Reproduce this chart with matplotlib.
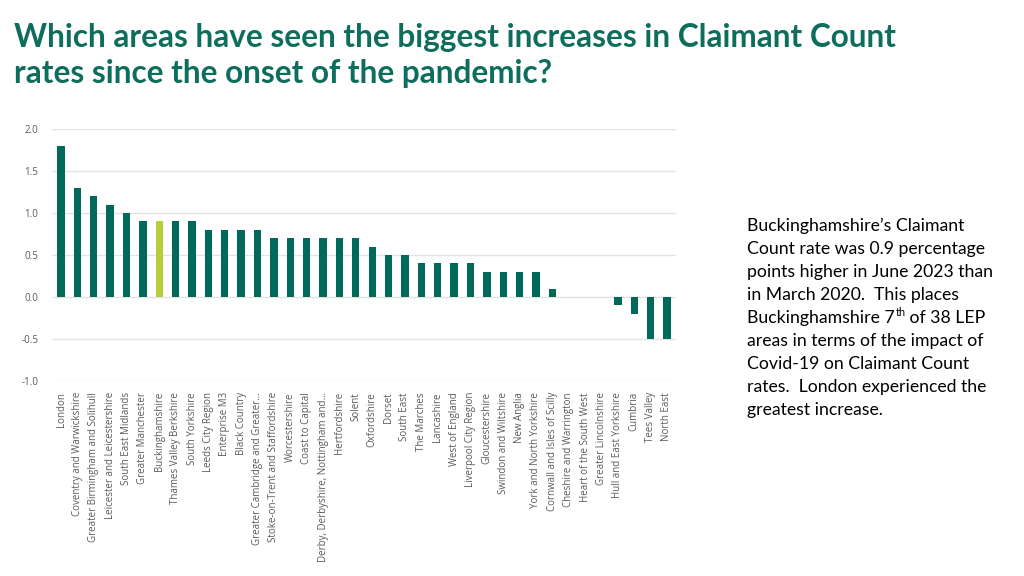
import matplotlib
matplotlib.use("Agg")
import matplotlib.pyplot as plt
import numpy as np

areas = ["London", "Coventry and Warwickshire", "Greater Birmingham and Solihull",
         "Leicester and Leicestershire", "South East Midlands", "Greater Manchester",
         "Buckinghamshire", "Thames Valley Berkshire", "South Yorkshire", "Leeds City Region",
         "Enterprise M3", "Black Country", "Greater Cambridge and Greater…",
         "Stoke-on-Trent and Staffordshire", "Worcestershire", "Coast to Capital",
         "Derby, Derbyshire, Nottingham and…", "Hertfordshire", "Solent", "Oxfordshire",
         "Dorset", "South East", "The Marches", "Lancashire", "West of England",
         "Liverpool City Region", "Gloucestershire", "Swindon and Wiltshire", "New Anglia",
         "York and North Yorkshire", "Cornwall and Isles of Scilly", "Cheshire and Warrington",
         "Heart of the South West", "Greater Lincolnshire", "Hull and East Yorkshire",
         "Cumbria", "Tees Valley", "North East"]
change = [1.8, 1.3, 1.2, 1.1, 1.0, 0.9, 0.9, 0.9, 0.9, 0.8, 0.8, 0.8, 0.8,
          0.7, 0.7, 0.7, 0.7, 0.7, 0.7, 0.6, 0.5, 0.5, 0.4, 0.4, 0.4, 0.4,
          0.3, 0.3, 0.3, 0.3, 0.1, 0.0, 0.0, 0.0, -0.1, -0.2, -0.5, -0.5]
highlight = "Buckinghamshire"
yticks = [-1.0, -0.5, 0.0, 0.5, 1.0, 1.5, 2.0]

GREEN = "#00695A"
LIME = "#B5CE3A"
GREY = "#595959"
TITLE = "#0E6E5C"

fig = plt.figure(figsize=(10.24, 5.76), dpi=100)
ax = fig.add_axes([52/1024, 1 - 381/576, (676-52)/1024, (381-129)/576])

x = np.arange(len(areas))
colors = [LIME if a == highlight else GREEN for a in areas]
ax.bar(x, change, width=0.45, color=colors, zorder=3)
ax.set_xlim(-0.55, len(areas) - 0.45)
ax.set_ylim(-1.0, 2.0)
ax.set_yticks(yticks)
ax.set_yticklabels([f"{v:.1f}" for v in yticks], fontsize=7, color=GREY, family="Open Sans")
ax.yaxis.grid(True, color="#E3E3E3", linewidth=1, zorder=0)
for s in ax.spines.values():
    s.set_visible(False)
ax.tick_params(axis="y", length=0, pad=10)
ax.tick_params(axis="x", length=0, pad=8)
ax.set_xticks(x)
ax.set_xticklabels(areas, rotation=90, fontsize=7, color=GREY, va="top", ha="center",
                   family="Open Sans")

fig.text(14/1024, 1 - 37/576, "Which areas have seen the biggest increases in Claimant Count",
         fontsize=22.7, fontweight="bold", color=TITLE, family="Lato", va="center", ha="left")
fig.text(14/1024, 1 - 73/576, "rates since the onset of the pandemic?",
         fontsize=22.7, fontweight="bold", color=TITLE, family="Lato", va="center", ha="left")

body_lines = ["Buckinghamshire’s Claimant",
              "Count rate was 0.9 percentage",
              "points higher in June 2023 than",
              "in March 2020.  This places",
              None,
              "areas in terms of the impact of",
              "Covid-19 on Claimant Count",
              "rates.  London experienced the",
              "greatest increase."]
rank_pre, rank_sup, rank_post = "Buckinghamshire 7", "th", " of 38 LEP"

fs = 12.7
x0 = 747
renderer = fig.canvas.get_renderer()
for i, line in enumerate(body_lines):
    ypx = 226 + 23 * i
    if line is not None:
        fig.text(x0/1024, 1 - ypx/576, line, fontsize=fs, color="black", family="Lato",
                 va="center", ha="left")
    else:
        t1 = fig.text(x0/1024, 1 - ypx/576, rank_pre, fontsize=fs, color="black",
                      family="Lato", va="center", ha="left")
        bb = t1.get_window_extent(renderer)
        t2 = fig.text(bb.x1/1024 + 0.5/1024, 1 - (ypx - 5)/576, rank_sup, fontsize=fs*0.62,
                      color="black", family="Lato", va="center", ha="left")
        bb2 = t2.get_window_extent(renderer)
        fig.text(bb2.x1/1024, 1 - ypx/576, rank_post, fontsize=fs, color="black",
                 family="Lato", va="center", ha="left")

fig.savefig("out.png", dpi=100)
